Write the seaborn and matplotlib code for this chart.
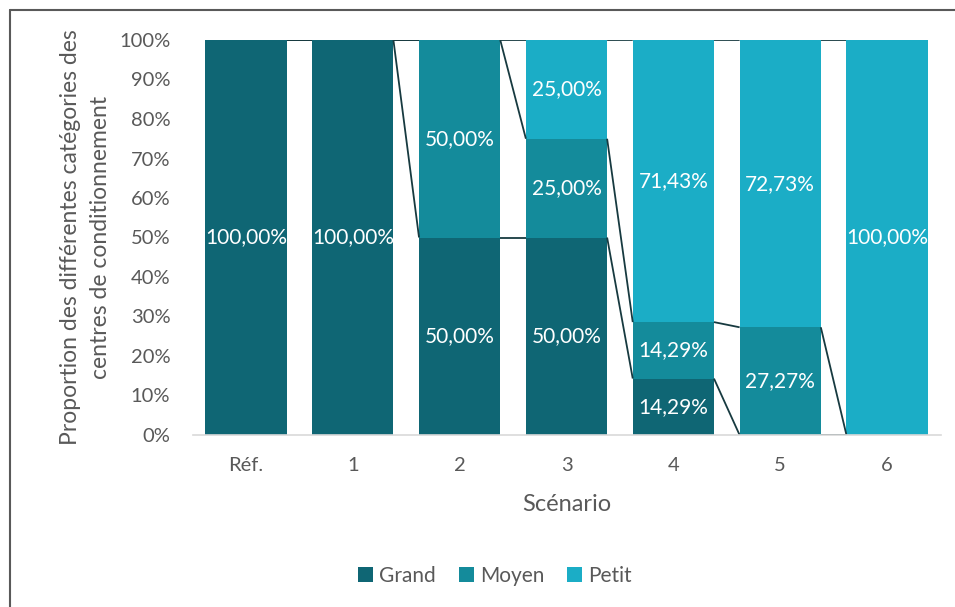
import numpy as np
import pandas as pd
import matplotlib
matplotlib.use("Agg")
import matplotlib.pyplot as plt
from matplotlib.patches import Patch
import seaborn as sns

# Scenario data: share of each packing-centre category (%)
scenarios = ["Réf.", "1", "2", "3", "4", "5", "6"]
grand = [100.00, 100.00, 50.00, 50.00, 14.29, 0.00, 0.00]
moyen = [0.00, 0.00, 50.00, 25.00, 14.29, 27.27, 0.00]
petit = [0.00, 0.00, 0.00, 25.00, 71.43, 72.73, 100.00]
categories = ["Grand", "Moyen", "Petit"]
colors = {"Grand": "#0F6674", "Moyen": "#148B9B", "Petit": "#1BADC6"}

sns.set_theme(style="white")
plt.rcParams["font.family"] = ["Lato", "DejaVu Sans"]

df = pd.DataFrame({"Scénario": scenarios, "Grand": grand, "Moyen": moyen, "Petit": petit})
df["cum_grand"] = df["Grand"] / 100
df["cum_moyen"] = (df["Grand"] + df["Moyen"]) / 100
df["cum_petit"] = (df["Grand"] + df["Moyen"] + df["Petit"]) / 100

fig = plt.figure(figsize=(9.55, 6.07), dpi=100)
ax = fig.add_axes([192.5 / 955, 1 - 435 / 607, (940.5 - 192.5) / 955, (435 - 40) / 607])

width = 0.76
# Stacked bars drawn back to front as cumulative totals
for col, cat in [("cum_petit", "Petit"), ("cum_moyen", "Moyen"), ("cum_grand", "Grand")]:
    sns.barplot(data=df, x="Scénario", y=col, color=colors[cat], width=width,
                saturation=1, ax=ax, edgecolor="none", linewidth=0)

# Series lines joining the tops of each segment between neighbouring bars
line_color = "#173a40"
x = np.arange(len(scenarios))
for col in ["cum_grand", "cum_moyen", "cum_petit"]:
    vals = df[col].values
    for i in range(len(x) - 1):
        ax.plot([x[i] + width / 2, x[i + 1] - width / 2], [vals[i], vals[i + 1]],
                color=line_color, lw=1.3, solid_capstyle="butt", zorder=1)

# Value labels in the middle of each segment
bottoms = np.zeros(len(scenarios))
for cat, vals in zip(categories, [grand, moyen, petit]):
    for i, v in enumerate(vals):
        if v > 0:
            txt = f"{v:.2f}".replace(".", ",") + "%"
            ax.text(x[i], (bottoms[i] + v / 2) / 100, txt, ha="center", va="center",
                    color="white", fontsize=15)
    bottoms += np.array(vals)

ax.set_ylim(0, 1)
ax.set_xlim(-0.5, len(scenarios) - 0.5)
ax.set_yticks(np.arange(0, 1.01, 0.1))
ax.set_yticklabels([f"{int(round(t * 100))}%" for t in np.arange(0, 1.01, 0.1)])
ax.tick_params(axis="both", length=0, labelsize=14.5, colors="#595959")
ax.tick_params(axis="x", pad=16)
ax.tick_params(axis="y", pad=16)
for s in ["top", "right", "left"]:
    ax.spines[s].set_visible(False)
ax.spines["bottom"].set_color("#d9d9d9")
ax.spines["bottom"].set_linewidth(1.2)

ax.set_xlabel("Scénario", fontsize=17, color="#595959", labelpad=14)
ax.set_ylabel("Proportion des différentes catégories des\ncentres de conditionnement",
              fontsize=16.5, color="#595959", labelpad=6, linespacing=1.5)

handles = [Patch(facecolor=colors[c], edgecolor="none") for c in categories]
fig.legend(handles, categories, loc="center", bbox_to_anchor=(495 / 955, 1 - 576 / 607),
           ncol=3, frameon=False, fontsize=15, labelcolor="#595959",
           handlelength=0.7, handleheight=0.7, handletextpad=0.3, columnspacing=1.1)

# Chart frame (top and left edges)
fig.add_artist(plt.Line2D([10 / 955, 10 / 955], [0, 1 - 10 / 607], transform=fig.transFigure,
                          color="#595959", lw=1.5))
fig.add_artist(plt.Line2D([10 / 955, 1], [1 - 10 / 607, 1 - 10 / 607], transform=fig.transFigure,
                          color="#595959", lw=1.5))

fig.savefig("out.png", dpi=100)
